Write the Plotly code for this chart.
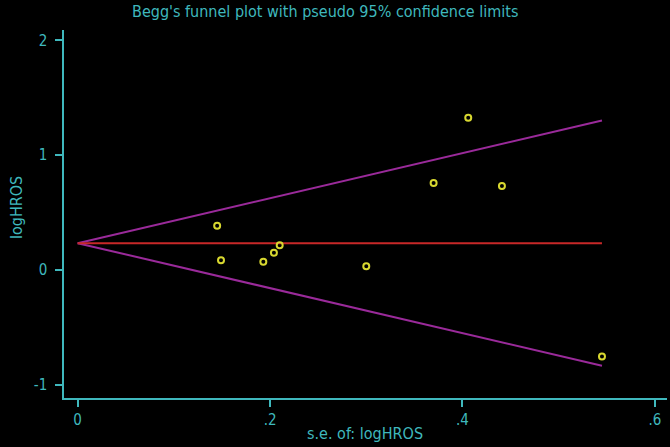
import plotly.graph_objects as go

# Data
se = [0.145, 0.149, 0.193, 0.204, 0.210, 0.300, 0.370, 0.406, 0.441, 0.545]
loghr = [0.384, 0.084, 0.072, 0.150, 0.215, 0.032, 0.758, 1.325, 0.732, -0.755]
pooled = 0.233
z = 1.96
x_ticks = [0, 0.2, 0.4, 0.6]
x_ticklabels = ["0", ".2", ".4", ".6"]
y_ticks = [-1, 0, 1, 2]
y_ticklabels = ["-1", "0", "1", "2"]

se_max = max(se)
fx = [0, se_max]
upper = [pooled + z * s for s in fx]
lower = [pooled - z * s for s in fx]

CYAN = "#3fb8bd"
FONT = "DejaVu Sans Condensed, Liberation Sans Narrow, sans-serif"

fig = go.Figure()
fig.add_trace(go.Scatter(x=fx, y=upper, mode="lines",
                         line=dict(color="#9a2a9a", width=2), hoverinfo="skip"))
fig.add_trace(go.Scatter(x=fx, y=lower, mode="lines",
                         line=dict(color="#9a2a9a", width=2), hoverinfo="skip"))
fig.add_trace(go.Scatter(x=fx, y=[pooled, pooled], mode="lines",
                         line=dict(color="#c82828", width=2), hoverinfo="skip"))
fig.add_trace(go.Scatter(x=se, y=loghr, mode="markers",
                         marker=dict(symbol="circle-open", size=6,
                                     color="#d8d830", line=dict(width=2))))

axis_common = dict(showgrid=False, zeroline=False, showline=True, linecolor=CYAN,
                   linewidth=1.5, ticks="outside", ticklen=7, tickwidth=1.5,
                   tickcolor=CYAN, tickfont=dict(family=FONT, size=15, color=CYAN))

fig.update_layout(
    width=670, height=447,
    paper_bgcolor="black", plot_bgcolor="black",
    showlegend=False,
    margin=dict(l=64, r=3, t=30, b=49),
    xaxis=dict(range=[-0.0142, 0.6126], tickvals=x_ticks, ticktext=x_ticklabels,
               **axis_common),
    yaxis=dict(range=[-1.116, 2.09], tickvals=y_ticks, ticktext=y_ticklabels,
               ticklabelstandoff=5, **axis_common),
    annotations=[
        dict(text="Begg's funnel plot with pseudo 95% confidence limits",
             xref="paper", yref="paper", x=(325 - 64) / 603, y=1 + (30 - 11) / 368,
             xanchor="center", yanchor="middle", showarrow=False,
             font=dict(family=FONT, size=16, color=CYAN)),
        dict(text="s.e. of: logHROS", xref="paper", yref="paper",
             x=(365 - 64) / 603, y=-(433 - 398) / 368,
             xanchor="center", yanchor="middle", showarrow=False,
             font=dict(family=FONT, size=16, color=CYAN)),
        dict(text="logHROS", xref="paper", yref="paper",
             x=-(64 - 16) / 603, y=(398 - 208) / 368, textangle=-90,
             xanchor="center", yanchor="middle", showarrow=False,
             font=dict(family=FONT, size=16, color=CYAN)),
    ],
)

fig.write_html("out.html", config={"displayModeBar": False},
               post_script="document.body.style.margin='0';document.body.style.background='black';")
